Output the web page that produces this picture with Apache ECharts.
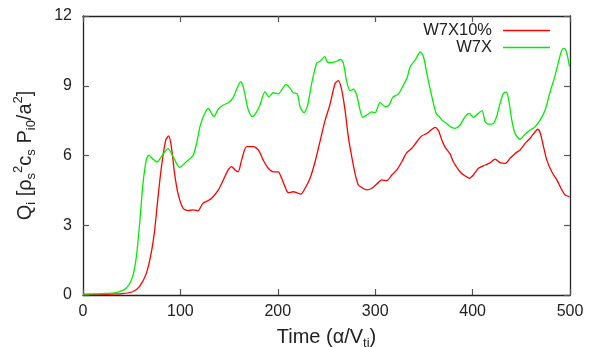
<!DOCTYPE html>
<html>
<head>
<meta charset="utf-8">
<script src="https://cdn.jsdelivr.net/npm/echarts@6/dist/echarts.min.js"></script>
<style>html,body{margin:0;padding:0;background:#fff}#c{width:600px;height:347px}</style>
</head>
<body>
<div id="c"></div>
<script>
var seriesNames = ['W7X10%', 'W7X'];
var xTicks = [0, 100, 200, 300, 400, 500];
var yTicks = [0, 3, 6, 9, 12];

var timeRed = [0,20,40,51,58,65,70,73.6,77,80.5,85,88,90.7,94,97.5,102.7,107.8,113,118,123,128,132.1,139,144,149.1,152.6,156,159.4,162.8,168,174.8,180,185.1,190.2,195.4,200.5,203.9,207.4,210.8,215.9,219.4,223.5,228,233.1,238.3,243.3,248.5,253.6,258.8,262.2,265.6,269,272.4,275.9,279.3,282.7,286.1,291.3,296.5,301.6,306.7,311.9,317,322.2,327.3,332.4,337.6,342.7,347.8,353,358.2,361.6,365,368.4,371.9,377,380.2,387.1,392.3,396.7,400.8,405.9,412.8,418,423.1,428.2,433.4,438.5,443.6,448.8,453.9,459,464.2,466.9,469.4,472.8,476.2,481.3,486.5,491.6,495,499.5];
var w7x10 = [0.02,0.03,0.06,0.14,0.36,0.93,1.8,2.8,4.2,5.5,6.67,6.84,6.38,5.23,4.37,3.73,3.63,3.66,3.62,3.94,4.05,4.16,4.52,4.95,5.38,5.52,5.38,5.3,5.8,6.38,6.38,6.24,5.8,5.45,5.3,5.3,5.02,4.66,4.4,4.44,4.4,4.34,4.59,5.02,5.73,6.6,7.5,8.2,9.1,9.22,8.82,7.96,6.81,5.95,5.23,4.73,4.63,4.52,4.59,4.77,4.95,4.92,5.16,5.38,5.73,6.12,6.31,6.59,6.84,6.95,7.13,7.21,7.07,6.67,6.35,6.06,5.73,5.3,5.12,5.02,5.16,5.45,5.59,5.69,5.84,5.69,5.66,5.88,6.09,6.24,6.52,6.74,7.02,7.13,6.98,6.38,5.8,5.3,4.95,4.52,4.3,4.23];

var timeGreen = [0,20,34,44.5,51,54.8,58.2,61.6,65,67.5,71.9,76,80.5,87.3,92.5,99.3,106,113,117,120.1,123.5,128.6,134.4,138.8,144,149.1,154.3,157.7,161.8,164.5,169.7,173.8,178.3,181.7,186.8,190.9,195.4,200.5,205,208.4,212.5,216,220,222.8,226.9,230.3,234.8,239.9,243.3,248.1,251.7,258.8,264.6,267.3,270.8,274.2,277.6,281,284.4,287.2,291.3,296.5,299.9,305,310.2,314.3,318,323.9,329,333.1,335.9,341,346.2,349.6,353,358.2,362.6,366.5,368.4,373.4,377,382,387.1,392.3,396.7,400.8,404.9,409.7,412.8,416.2,421.4,424.8,428.2,431.6,434.4,436.8,440.2,443.6,448.8,453.9,458.4,464.2,469.4,474.5,479.6,484.8,488.2,491.6,494,496.7,499.5];
var w7x = [0.04,0.06,0.1,0.3,0.8,1.65,3.1,4.8,5.8,6.02,5.84,5.72,5.95,6.3,5.95,5.49,5.73,6.0,6.6,7.24,7.67,8.03,7.67,7.99,8.17,8.27,8.5,8.85,9.18,8.96,7.96,7.67,7.88,8.17,8.74,8.53,8.7,8.65,8.89,9.06,8.89,8.7,8.65,8.1,7.84,8.1,9.1,9.97,10.05,10.25,9.99,10.03,10.13,9.97,9.18,8.79,8.85,8.6,7.96,7.64,7.74,7.88,7.84,8.27,8.1,8.17,8.5,8.65,9.03,9.39,9.82,10.1,10.46,10.25,9.53,8.53,7.81,7.64,7.53,7.38,7.24,7.17,7.31,7.67,7.81,7.64,7.78,7.93,7.45,7.35,7.38,7.7,8.24,8.67,8.74,8.46,7.53,6.95,6.7,6.92,7.07,7.24,7.53,7.96,8.74,9.46,10.03,10.54,10.61,10.4,9.82];

function pairs(xs, ys) { return xs.map(function (x, i) { return [x, ys[i]]; }); }

var FONT = '"Liberation Sans", Arial, sans-serif';
var TXT = '#222';
var rich = {
  m: { fontSize: 20, fontFamily: FONT, color: TXT, lineHeight: 26 },
  sb: { fontSize: 13, fontFamily: FONT, color: TXT, lineHeight: 13, verticalAlign: 'bottom' },
  sp: { fontSize: 13, fontFamily: FONT, color: TXT, lineHeight: 12, verticalAlign: 'top' }
};

var axisLine = { show: true, onZero: false, lineStyle: { color: '#222', width: 1.3 } };
var tick = { show: true, inside: true, length: 6, lineStyle: { color: '#555', width: 1.2 } };

var chart = echarts.init(document.getElementById('c'), null, { renderer: 'canvas' });
chart.setOption({
  animation: false,
  backgroundColor: '#fff',
  grid: { left: 83, right: 30, top: 16, bottom: 52, containLabel: false, outerBoundsMode: 'none' },
  legend: [
    { data: [{ name: seriesNames[0], icon: 'rect' }], right: 50, top: 22, align: 'right', orient: 'vertical', padding: 0,
      itemWidth: 47, itemHeight: 1.5, textStyle: { fontSize: 16.5, fontFamily: FONT, color: TXT, padding: [0, 6, 0, 0] }, selectedMode: false },
    { data: [{ name: seriesNames[1], icon: 'rect' }], right: 50, top: 39, align: 'right', orient: 'vertical', padding: 0,
      itemWidth: 47, itemHeight: 1.5, textStyle: { fontSize: 16.5, fontFamily: FONT, color: TXT, padding: [0, 6, 0, 0] }, selectedMode: false }
  ],
  xAxis: [
    { type: 'value', min: xTicks[0], max: xTicks[xTicks.length - 1], interval: 100, position: 'bottom',
      axisLine: axisLine, axisTick: tick, splitLine: { show: false },
      axisLabel: { fontSize: 16, fontFamily: FONT, color: TXT, margin: 9 },
      name: '{m|Time (α/V}{sb|ti}{m|)}', nameLocation: 'middle', nameGap: 29,
      nameTextStyle: { rich: rich } },
    { type: 'value', min: xTicks[0], max: xTicks[xTicks.length - 1], interval: 100, position: 'top',
      axisLine: axisLine, axisTick: tick, splitLine: { show: false }, axisLabel: { show: false } }
  ],
  yAxis: [
    { type: 'value', min: yTicks[0], max: yTicks[yTicks.length - 1], interval: 3, position: 'left',
      axisLine: axisLine, axisTick: tick, splitLine: { show: false },
      axisLabel: { fontSize: 16, fontFamily: FONT, color: TXT, margin: 11 },
      name: '{m|Q}{sb|i}{m| [ρ}{sb|s}{sp|2}{m|c}{sb|s}{m| P}{sb|i0}{m|/a}{sp|2}{m|]}',
      nameLocation: 'middle', nameGap: 45, nameRotate: 90,
      nameTextStyle: { rich: rich } },
    { type: 'value', min: yTicks[0], max: yTicks[yTicks.length - 1], interval: 3, position: 'right',
      axisLine: axisLine, axisTick: tick, splitLine: { show: false }, axisLabel: { show: false } }
  ],
  series: [
    { name: seriesNames[0], type: 'line', data: pairs(timeRed, w7x10), showSymbol: false, symbol: 'none', smooth: 0.25,
      lineStyle: { color: '#ff0000', width: 1.3 }, itemStyle: { color: '#ff0000' } },
    { name: seriesNames[1], type: 'line', data: pairs(timeGreen, w7x), showSymbol: false, symbol: 'none', smooth: 0.25,
      lineStyle: { color: '#00ee00', width: 1.3 }, itemStyle: { color: '#00ee00' } }
  ]
});
</script>
</body>
</html>
